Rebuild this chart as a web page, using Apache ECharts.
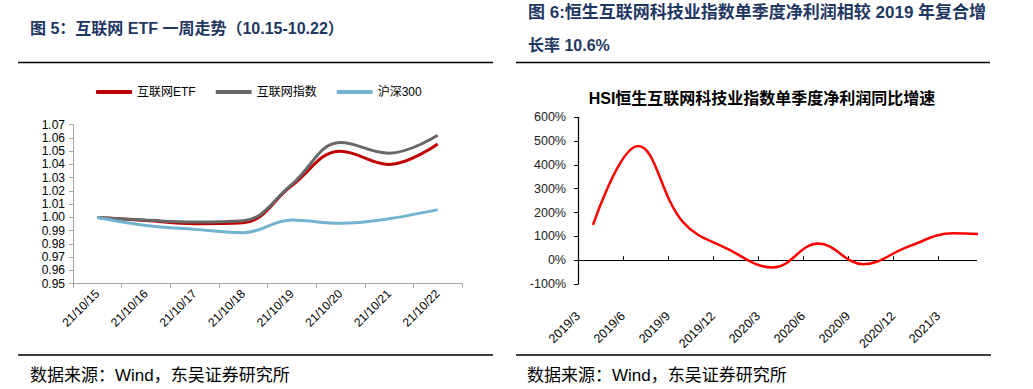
<!DOCTYPE html>
<html><head><meta charset="utf-8">
<script src="https://cdn.jsdelivr.net/npm/echarts@6/dist/echarts.min.js"></script>
<style>html,body{margin:0;padding:0;background:#fff}#c{width:1033px;height:389px}</style>
</head><body><div id="c"></div>
<script>
// ---- Left chart data ----
const leftCategories = ['21/10/15','21/10/16','21/10/17','21/10/18','21/10/19','21/10/20','21/10/21','21/10/22'];
const leftSeriesNames = ['互联网ETF','互联网指数','沪深300'];
const etfValues   = [1.000, 0.9977, 0.9953, 0.9960, 1.024, 1.050, 1.040, 1.0555];
const indexValues = [1.000, 0.9980, 0.9965, 0.9975, 1.025, 1.0565, 1.0485, 1.062];
const hs300Values = [1.000, 0.9940, 0.9910, 0.9885, 0.998, 0.9956, 0.9990, 1.0059];

// ---- Right chart data ----
const rightSeriesName = 'HSI恒生互联网科技业指数单季度净利润同比增速';
const rightDates  = ['2019-03-31','2019-06-30','2019-09-30','2019-12-31','2020-03-31','2020-06-30','2020-09-30','2020-12-31','2021-03-31','2021-06-30'];
const rightValues = [148, 480, 160, 46, -31, 70, -17, 57, 113, 105];
const rightTickLabels = ['2019/3','2019/6','2019/9','2019/12','2020/3','2020/6','2020/9','2020/12','2021/3'];
const rightAxisEndDate = '2021-05-17';

const FONT = '"Liberation Sans", Arial, "Noto Sans CJK SC", sans-serif';
const CJK = '"Liberation Sans", "Noto Sans CJK SC", sans-serif';

function monthOffset(s) {
  const [y, m, d] = s.split('-').map(Number);
  const dim = new Date(y, m, 0).getDate();
  return (y - 2019) * 12 + (m - 3) + d / dim;
}
function labelOffset(l) {
  const [y, m] = l.split('/').map(Number);
  return (y - 2019) * 12 + (m - 3);
}
const tickVals = rightTickLabels.map(labelOffset);
const tickMap = {};
rightTickLabels.forEach(l => { tickMap[labelOffset(l)] = l; });

const chart = echarts.init(document.getElementById('c'), null, {renderer: 'svg'});
const grey = '#A6A6A6';

chart.setOption({
  animation: false,
  backgroundColor: '#fff',
  grid: [
    {left: 73, right: 571, top: 124.7, bottom: 105.3, containLabel: false, outerBoundsMode: 'none'},
    {left: 578, right: 56.5, top: 117.3, bottom: 105, containLabel: false, outerBoundsMode: 'none'}
  ],
  legend: {
    data: leftSeriesNames,
    left: 96, top: 86,
    icon: 'roundRect', itemWidth: 36, itemHeight: 4, itemGap: 20,
    textStyle: {fontSize: 12, color: '#000', fontFamily: CJK},
    padding: 0
  },
  xAxis: [
    {
      gridIndex: 0, type: 'category', data: leftCategories, boundaryGap: true,
      axisLine: {show: true, lineStyle: {color: grey, width: 1}},
      axisTick: {show: true, length: 4, lineStyle: {color: grey}},
      axisLabel: {rotate: 45, margin: 8, color: '#000', fontSize: 12, fontFamily: FONT},
      splitLine: {show: false}
    },
    {
      gridIndex: 1, type: 'value', min: 0, max: monthOffset(rightAxisEndDate),
      axisLine: {show: true, onZero: true, lineStyle: {color: '#000', width: 1.2}},
      axisTick: {show: true, inside: true, length: 4, customValues: tickVals, lineStyle: {color: '#000'}},
      axisLabel: {customValues: tickVals, formatter: v => tickMap[Math.round(v)] || '', rotate: 45, margin: 30, color: '#000', fontSize: 12.5, fontFamily: FONT},
      splitLine: {show: false}
    }
  ],
  yAxis: [
    {
      gridIndex: 0, type: 'value', min: 0.95, max: 1.07, interval: 0.01,
      axisLine: {show: true, lineStyle: {color: grey}},
      axisTick: {show: true, length: 4, lineStyle: {color: grey}},
      axisLabel: {formatter: v => v.toFixed(2), margin: 8, color: '#000', fontSize: 12, fontFamily: FONT},
      splitLine: {show: false}
    },
    {
      gridIndex: 1, type: 'value', min: -100, max: 600, interval: 100,
      axisLine: {show: true, lineStyle: {color: '#000', width: 1.2}},
      axisTick: {show: true, length: 4, lineStyle: {color: '#000'}},
      axisLabel: {formatter: v => v + '%', margin: 12, color: '#222', fontSize: 12.5, fontFamily: FONT},
      splitLine: {show: false}
    }
  ],
  series: [
    {name: leftSeriesNames[0], type: 'line', xAxisIndex: 0, yAxisIndex: 0, data: etfValues, smooth: 0.4, showSymbol: false, symbol: 'none',
     lineStyle: {width: 3, color: '#C00000'}, itemStyle: {color: '#C00000'}},
    {name: leftSeriesNames[1], type: 'line', xAxisIndex: 0, yAxisIndex: 0, data: indexValues, smooth: 0.4, showSymbol: false, symbol: 'none',
     lineStyle: {width: 3, color: '#686868'}, itemStyle: {color: '#686868'}},
    {name: leftSeriesNames[2], type: 'line', xAxisIndex: 0, yAxisIndex: 0, data: hs300Values, smooth: 0.4, showSymbol: false, symbol: 'none',
     lineStyle: {width: 3, color: '#72B3D0'}, itemStyle: {color: '#72B3D0'}},
    {name: rightSeriesName, type: 'line', xAxisIndex: 1, yAxisIndex: 1, clip: true,
     data: rightDates.map((d, i) => [monthOffset(d), rightValues[i]]),
     smooth: 0.4, showSymbol: false, symbol: 'none',
     lineStyle: {width: 2.5, color: '#FF0000'}, itemStyle: {color: '#FF0000'}}
  ],
  graphic: [
    {type: 'text', left: 30, top: 20, style: {text: '图 5：互联网 ETF 一周走势（10.15-10.22）', font: 'bold 16px ' + CJK, fill: '#1F3763'}},
    {type: 'text', left: 528, top: 4, style: {text: '图 6:恒生互联网科技业指数单季度净利润相较 2019 年复合增', font: 'bold 17px ' + CJK, fill: '#1F3763'}},
    {type: 'text', left: 528, top: 37, style: {text: '长率 10.6%', font: 'bold 16px ' + CJK, fill: '#1F3763'}},
    {type: 'text', x: 762, y: 98, style: {text: rightSeriesName, font: 'bold 16px ' + CJK, fill: '#000', align: 'center', verticalAlign: 'middle'}},
    {type: 'line', shape: {x1: 18, y1: 62.5, x2: 493, y2: 62.5}, style: {stroke: '#000', lineWidth: 1.5}},
    {type: 'line', shape: {x1: 516, y1: 62.5, x2: 990, y2: 62.5}, style: {stroke: '#000', lineWidth: 1.5}},
    {type: 'line', shape: {x1: 18, y1: 355, x2: 493, y2: 355}, style: {stroke: '#000', lineWidth: 1.5}},
    {type: 'line', shape: {x1: 516, y1: 355, x2: 991, y2: 355}, style: {stroke: '#000', lineWidth: 1.5}},
    {type: 'text', left: 30, top: 367, style: {text: '数据来源：Wind，东吴证券研究所', font: '17px ' + CJK, fill: '#000'}},
    {type: 'text', left: 527, top: 367, style: {text: '数据来源：Wind，东吴证券研究所', font: '17px ' + CJK, fill: '#000'}}
  ]
});
</script>
</body></html>
